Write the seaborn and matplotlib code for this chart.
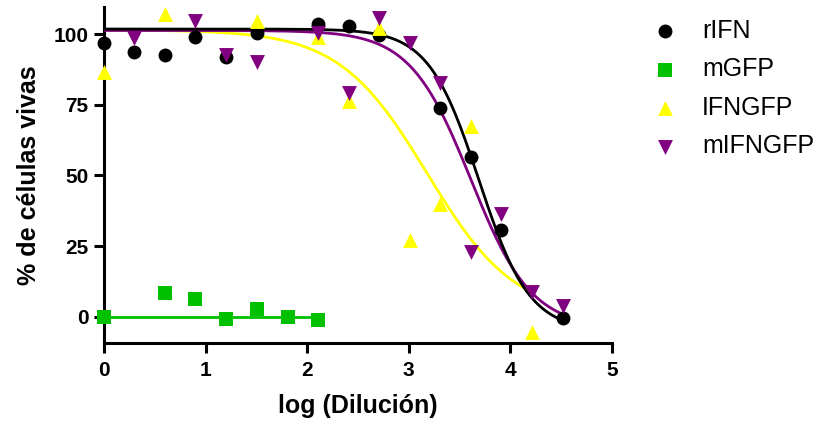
import numpy as np
import pandas as pd
import matplotlib
matplotlib.use("Agg")
import matplotlib.pyplot as plt
import seaborn as sns

# ---- data ----
x_rifn = [0.00, 0.30, 0.60, 0.90, 1.20, 1.51, 2.11, 2.41, 2.71, 3.31, 3.61, 3.91, 4.52]
y_rifn = [96.8, 93.6, 92.6, 99.0, 91.9, 100.3, 103.5, 103.0, 99.6, 73.8, 56.5, 30.7, -0.4]

x_mgfp = [0.00, 0.60, 0.90, 1.20, 1.51, 1.81, 2.11]
y_mgfp = [0.0, 8.5, 6.4, -0.7, 2.8, 0.0, -1.0]

x_ifngfp = [0.00, 0.60, 1.51, 2.11, 2.41, 2.71, 3.01, 3.31, 3.61, 4.21]
y_ifngfp = [86.6, 107.2, 104.6, 99.0, 76.5, 102.0, 27.0, 40.0, 67.5, -5.3]

x_mifngfp = [0.30, 0.90, 1.20, 1.51, 2.11, 2.41, 2.71, 3.01, 3.31, 3.61, 3.91, 4.21, 4.52]
y_mifngfp = [98.6, 104.6, 92.6, 90.0, 100.3, 79.0, 105.6, 97.0, 82.6, 23.0, 36.4, 8.8, 3.9]

# fitted sigmoid parameters (top, bottom, logEC50, hill slope, x range)
fit_rifn = [101.8, -5.0, 3.69, 1.75, 0.0, 4.52]
fit_ifngfp = [101.5, 0.0, 3.18, 1.0, 0.0, 4.21]
fit_mifngfp = [101.3, -4.0, 3.61, 1.45, 0.0, 4.52]
fit_mgfp_level = [0.0, 0.0, 2.11]  # level, x start, x end

labels = ["rIFN", "mGFP", "IFNGFP", "mIFNGFP"]
colors = ["#000000", "#00C000", "#FFFF00", "#800080"]
markers = ["o", "s", "^", "v"]


def sigmoid_curve(p):
    top, bottom, ec50, h, x0, x1 = p
    xs = np.linspace(x0, x1, 300)
    ys = bottom + (top - bottom) / (1 + 10 ** ((xs - ec50) * h))
    return pd.DataFrame({"x": xs, "y": ys})


sns.set_theme(style="ticks")
plt.rcParams["font.family"] = ["Liberation Sans", "DejaVu Sans"]
plt.rcParams["text.color"] = "black"
plt.rcParams["axes.labelcolor"] = "black"
plt.rcParams["xtick.color"] = "black"
plt.rcParams["ytick.color"] = "black"

fig = plt.figure(figsize=(8.3, 4.3), dpi=100)
ax = fig.add_axes([104 / 830, 1 - 343 / 430, (612 - 104) / 830, (343 - 7) / 430])

# curves
curve_y = sigmoid_curve(fit_ifngfp)
sns.lineplot(data=curve_y, x="x", y="y", ax=ax, color=colors[2], lw=2.0, zorder=2)
curve_p = sigmoid_curve(fit_mifngfp)
sns.lineplot(data=curve_p, x="x", y="y", ax=ax, color=colors[3], lw=2.0, zorder=3)
curve_k = sigmoid_curve(fit_rifn)
sns.lineplot(data=curve_k, x="x", y="y", ax=ax, color=colors[0], lw=2.0, zorder=4)
green_line = pd.DataFrame({"x": [fit_mgfp_level[1], fit_mgfp_level[2]],
                           "y": [fit_mgfp_level[0], fit_mgfp_level[0]]})
sns.lineplot(data=green_line, x="x", y="y", ax=ax, color=colors[1], lw=2.0, zorder=2)

# points
series = [(x_rifn, y_rifn), (x_mgfp, y_mgfp), (x_ifngfp, y_ifngfp), (x_mifngfp, y_mifngfp)]
sizes = [100, 110, 115, 115]
for (xs, ys), lab, c, m, s in zip(series, labels, colors, markers, sizes):
    sns.scatterplot(x=xs, y=ys, ax=ax, color=c, marker=m, s=s, linewidth=0,
                    label=lab, zorder=6, clip_on=False)

ax.set_xlim(0, 5)
ax.set_ylim(-9.3, 109.6)
ax.set_xticks([0, 1, 2, 3, 4, 5])
ax.set_yticks([0, 25, 50, 75, 100])
sns.despine(ax=ax)
for sp in ["left", "bottom"]:
    ax.spines[sp].set_linewidth(2.2)
    ax.spines[sp].set_color("black")
ax.tick_params(axis="both", width=2.2, length=7, color="black", labelsize=15, pad=4)
ax.tick_params(axis="x", pad=6)
for t in ax.get_xticklabels() + ax.get_yticklabels():
    t.set_fontweight("bold")

ax.set_xlabel("log (Dilución)", fontsize=18, fontweight="bold", labelpad=10)
ax.set_ylabel("% de células vivas", fontsize=18, fontweight="bold", labelpad=9)

leg = ax.legend(loc="upper left", bbox_to_anchor=(1.025, 1.01), frameon=False,
                fontsize=18, handletextpad=0.5, labelspacing=0.58,
                markerscale=1.0, borderaxespad=0.2)

fig.savefig("out.png", dpi=100)
